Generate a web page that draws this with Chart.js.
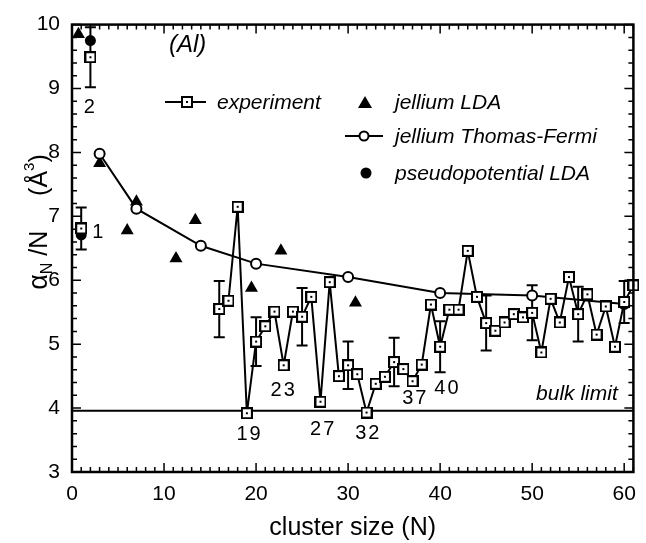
<!DOCTYPE html>
<html>
<head>
<meta charset="utf-8">
<script src="https://cdn.jsdelivr.net/npm/chart.js@4.4.1/dist/chart.umd.min.js"></script>
<style>
  html, body { margin: 0; padding: 0; background: #fff; }
  #wrap { width: 646px; height: 543px; }
</style>
</head>
<body>
<div id="wrap"><canvas id="c" width="646" height="543"></canvas></div>
<script>
// Static polarizability per atom of aluminium clusters, alpha_N / N (Å^3)
const expN = [1, 2, 16, 17, 18, 19, 20, 21, 22, 23, 24, 25, 26, 27, 28, 29, 30, 31, 32, 33, 34, 35, 36, 37, 38, 39, 40,
              41, 42, 43, 44, 45, 46, 47, 48, 49, 50, 51, 52, 53, 54, 55, 56, 57, 58, 59, 60, 61];
const expAlpha = [6.81, 9.49, 5.55, 5.68, 7.15, 3.92, 5.04, 5.28, 5.51, 4.67, 5.51, 5.43, 5.74, 4.10, 5.97, 4.50, 4.67,
                  4.53, 3.93, 4.38, 4.49, 4.72, 4.61, 4.42, 4.68, 5.62, 4.96, 5.54, 5.54, 6.46, 5.74, 5.33, 5.21, 5.34,
                  5.47, 5.42, 5.49, 4.87, 5.71, 5.34, 6.05, 5.47, 5.78, 5.15, 5.59, 4.96, 5.66, 5.92];
// measured uncertainty (half-width) for selected sizes
const errN = [1, 2, 16, 20, 25, 30, 35, 40, 45, 50, 55, 60];
const errHalf = [0.33, 0.47, 0.44, 0.38, 0.45, 0.37, 0.38, 0.40, 0.43, 0.43, 0.43, 0.33];

const tfN = [3, 7, 14, 20, 30, 40, 50, 60];
const tfAlpha = [7.98, 7.12, 6.54, 6.26, 6.05, 5.80, 5.76, 5.63];

const ldaN = [0.7, 3, 6, 7, 11.3, 13.4, 19.5, 22.7, 30.8];
const ldaAlpha = [9.85, 7.83, 6.78, 7.23, 6.34, 6.94, 5.88, 6.46, 5.65];

const ppN = [1, 2];
const ppAlpha = [6.71, 9.75];

const bulkLimit = 3.96;

const xTickValues = [0, 10, 20, 30, 40, 50, 60];
const yTickValues = [3, 4, 5, 6, 7, 8, 9, 10];

// size labels next to notable clusters: [text, N, alpha]
const sizeLabels = [
  ['2', 2, 8.71], ['1', 2.9, 6.74], ['19', 19.3, 3.58], ['23', 23.0, 4.27],
  ['27', 27.3, 3.66], ['32', 32.2, 3.61], ['37', 37.3, 4.15], ['40', 40.8, 4.30]
];

const FONT = '"Liberation Sans", Arial, Helvetica, sans-serif';

function pts(xs, ys) { return xs.map((v, i) => ({ x: v, y: ys[i] })); }

// open square marker with a dot in the middle
function makeSquareMarker() {
  const cv = document.createElement('canvas');
  cv.width = 12; cv.height = 12;
  const g = cv.getContext('2d');
  g.fillStyle = '#fff'; g.fillRect(1, 1, 10, 10);
  g.strokeStyle = '#000'; g.lineWidth = 2; g.strokeRect(1, 1, 10, 10);
  g.fillStyle = '#000'; g.fillRect(5, 5, 2, 2);
  return cv;
}
const squareMarker = makeSquareMarker();

const expAll = pts(expN, expAlpha);
const expSingle = expAll.filter(p => p.x < 10);
const expSeries = expAll.filter(p => p.x >= 10);

const errorBars = {
  id: 'errorBars',
  beforeDatasetsDraw(chart) {
    const { ctx, chartArea: a, scales: { x, y } } = chart;
    ctx.save();
    ctx.beginPath(); ctx.rect(a.left, a.top, a.right - a.left, a.bottom - a.top); ctx.clip();
    ctx.strokeStyle = '#000'; ctx.lineWidth = 2;
    errN.forEach((n, i) => {
      const k = expN.indexOf(n);
      const v = expAlpha[k];
      const px = x.getPixelForValue(n);
      const top = y.getPixelForValue(v + errHalf[i]);
      const bot = y.getPixelForValue(v - errHalf[i]);
      ctx.beginPath();
      ctx.moveTo(px, top); ctx.lineTo(px, bot);
      ctx.moveTo(px - 5.5, top); ctx.lineTo(px + 5.5, top);
      ctx.moveTo(px - 5.5, bot); ctx.lineTo(px + 5.5, bot);
      ctx.stroke();
    });
    ctx.restore();
  }
};

const frameAndTicks = {
  id: 'frameAndTicks',
  afterDatasetsDraw(chart) {
    const { ctx, chartArea: a, scales: { x, y } } = chart;
    ctx.save();
    ctx.strokeStyle = '#000';
    ctx.lineWidth = 1.5;
    ctx.beginPath();
    for (let n = 0; n <= 61; n++) {
      const px = x.getPixelForValue(n);
      const len = n % 10 === 0 ? 9 : 5;
      ctx.moveTo(px, a.bottom); ctx.lineTo(px, a.bottom - len);
      ctx.moveTo(px, a.top); ctx.lineTo(px, a.top + len);
    }
    for (let k = 0; k <= 35; k++) {
      const py = y.getPixelForValue(3 + k * 0.2);
      const len = k % 5 === 0 ? 9 : 5;
      ctx.moveTo(a.left, py); ctx.lineTo(a.left + len, py);
      ctx.moveTo(a.right, py); ctx.lineTo(a.right - len, py);
    }
    ctx.stroke();
    ctx.lineWidth = 2.5;
    ctx.strokeRect(a.left, a.top, a.right - a.left, a.bottom - a.top);
    ctx.restore();
  }
};

const textLayer = {
  id: 'textLayer',
  afterDraw(chart) {
    const { ctx, scales: { x, y } } = chart;
    ctx.save();
    ctx.fillStyle = '#000';
    ctx.textBaseline = 'middle';

    // cluster size labels
    ctx.font = '20px ' + FONT;
    ctx.textAlign = 'center';
    ctx.letterSpacing = '2px';
    sizeLabels.forEach(([t, n, v]) => ctx.fillText(t, x.getPixelForValue(n), y.getPixelForValue(v)));
    ctx.letterSpacing = '0px';

    ctx.font = 'italic 21px ' + FONT;
    ctx.textAlign = 'right';
    ctx.fillText('bulk limit', x.getPixelForValue(59.3), y.getPixelForValue(4.22));

    ctx.font = 'italic 24px ' + FONT;
    ctx.textAlign = 'left';
    ctx.fillText('(Al)', 169, 45);

    // legend
    ctx.font = 'italic 21px ' + FONT;
    ctx.strokeStyle = '#000'; ctx.lineWidth = 2;
    ctx.beginPath(); ctx.moveTo(165, 102); ctx.lineTo(206, 102); ctx.stroke();
    ctx.drawImage(squareMarker, 187 - 6, 102 - 6);
    ctx.fillText('experiment', 217, 103);

    ctx.beginPath();
    ctx.moveTo(365, 96); ctx.lineTo(372, 108); ctx.lineTo(358, 108); ctx.closePath(); ctx.fill();
    ctx.fillText('jellium LDA', 395, 103);

    ctx.beginPath(); ctx.moveTo(345, 136); ctx.lineTo(383, 136); ctx.stroke();
    ctx.beginPath(); ctx.arc(364, 136, 4.5, 0, Math.PI * 2);
    ctx.fillStyle = '#fff'; ctx.fill(); ctx.stroke();
    ctx.fillStyle = '#000';
    ctx.fillText('jellium Thomas-Fermi', 395, 137);

    ctx.beginPath(); ctx.arc(366, 173, 5.5, 0, Math.PI * 2); ctx.fill();
    ctx.fillText('pseudopotential LDA', 395, 174);

    // y axis title: alpha_N / N (Å^3), rotated
    ctx.translate(38, 222);
    ctx.rotate(-Math.PI / 2);
    ctx.textAlign = 'left';
    ctx.textBaseline = 'alphabetic';
    const parts = [
      ['α', '27px ' + FONT, 0],
      ['N', '16px ' + FONT, 5],
      [' /N', '25px ' + FONT, 0],
      ['     (Å', '25px ' + FONT, 0],
      ['3', '15px ' + FONT, -13],
      [')', '25px ' + FONT, 0]
    ];
    let total = 0;
    parts.forEach(p => { ctx.font = p[1]; total += ctx.measureText(p[0]).width; });
    let cx = -total / 2;
    parts.forEach(p => {
      ctx.font = p[1];
      ctx.fillText(p[0], cx, 9 + p[2]);
      cx += ctx.measureText(p[0]).width;
    });
    ctx.restore();
  }
};

new Chart(document.getElementById('c'), {
  type: 'scatter',
  data: {
    datasets: [
      {
        data: expSingle, showLine: false,
        pointStyle: squareMarker, pointRadius: 6, clip: false
      },
      {
        data: expSeries, showLine: true, tension: 0,
        borderColor: '#000', borderWidth: 2,
        pointStyle: squareMarker, pointRadius: 6, clip: false
      },
      {
        data: pts(tfN, tfAlpha), showLine: true, tension: 0,
        borderColor: '#000', borderWidth: 2,
        pointStyle: 'circle', pointRadius: 5, pointBorderWidth: 2,
        pointBackgroundColor: '#fff', pointBorderColor: '#000'
      },
      {
        data: pts(ldaN, ldaAlpha), showLine: false,
        pointStyle: 'triangle', pointRadius: 7.5, pointBorderWidth: 0,
        pointBackgroundColor: '#000', pointBorderColor: '#000', clip: false
      },
      {
        data: pts(ppN, ppAlpha), showLine: false,
        pointStyle: 'circle', pointRadius: 5.5, pointBorderWidth: 0,
        pointBackgroundColor: '#000', pointBorderColor: '#000'
      },
      {
        data: [{ x: 0, y: bulkLimit }, { x: 61, y: bulkLimit }], showLine: true,
        borderColor: '#000', borderWidth: 2, pointRadius: 0
      }
    ]
  },
  options: {
    responsive: false,
    animation: false,
    devicePixelRatio: 1,
    layout: { padding: { top: 15, right: 4, left: 0, bottom: 0 } },
    plugins: { legend: { display: false }, tooltip: { enabled: false } },
    scales: {
      x: {
        type: 'linear', min: 0, max: 61,
        afterFit: s => { s.height = 71; },
        afterBuildTicks: s => { s.ticks = xTickValues.map(v => ({ value: v })); },
        grid: { display: false, drawTicks: false },
        border: { display: false },
        ticks: { color: '#000', font: { family: FONT, size: 21 }, padding: 10, maxRotation: 0 },
        title: { display: true, text: 'cluster size (N)', color: '#000',
                 font: { family: FONT, size: 25 }, padding: { top: 0, bottom: 0 } }
      },
      y: {
        type: 'linear', min: 3, max: 10,
        afterFit: s => { s.width = 72; },
        afterBuildTicks: s => { s.ticks = yTickValues.map(v => ({ value: v })); },
        grid: { display: false, drawTicks: false },
        border: { display: false },
        ticks: { color: '#000', font: { family: FONT, size: 21 }, padding: 12 }
      }
    }
  },
  plugins: [errorBars, frameAndTicks, textLayer]
});
</script>
</body>
</html>
